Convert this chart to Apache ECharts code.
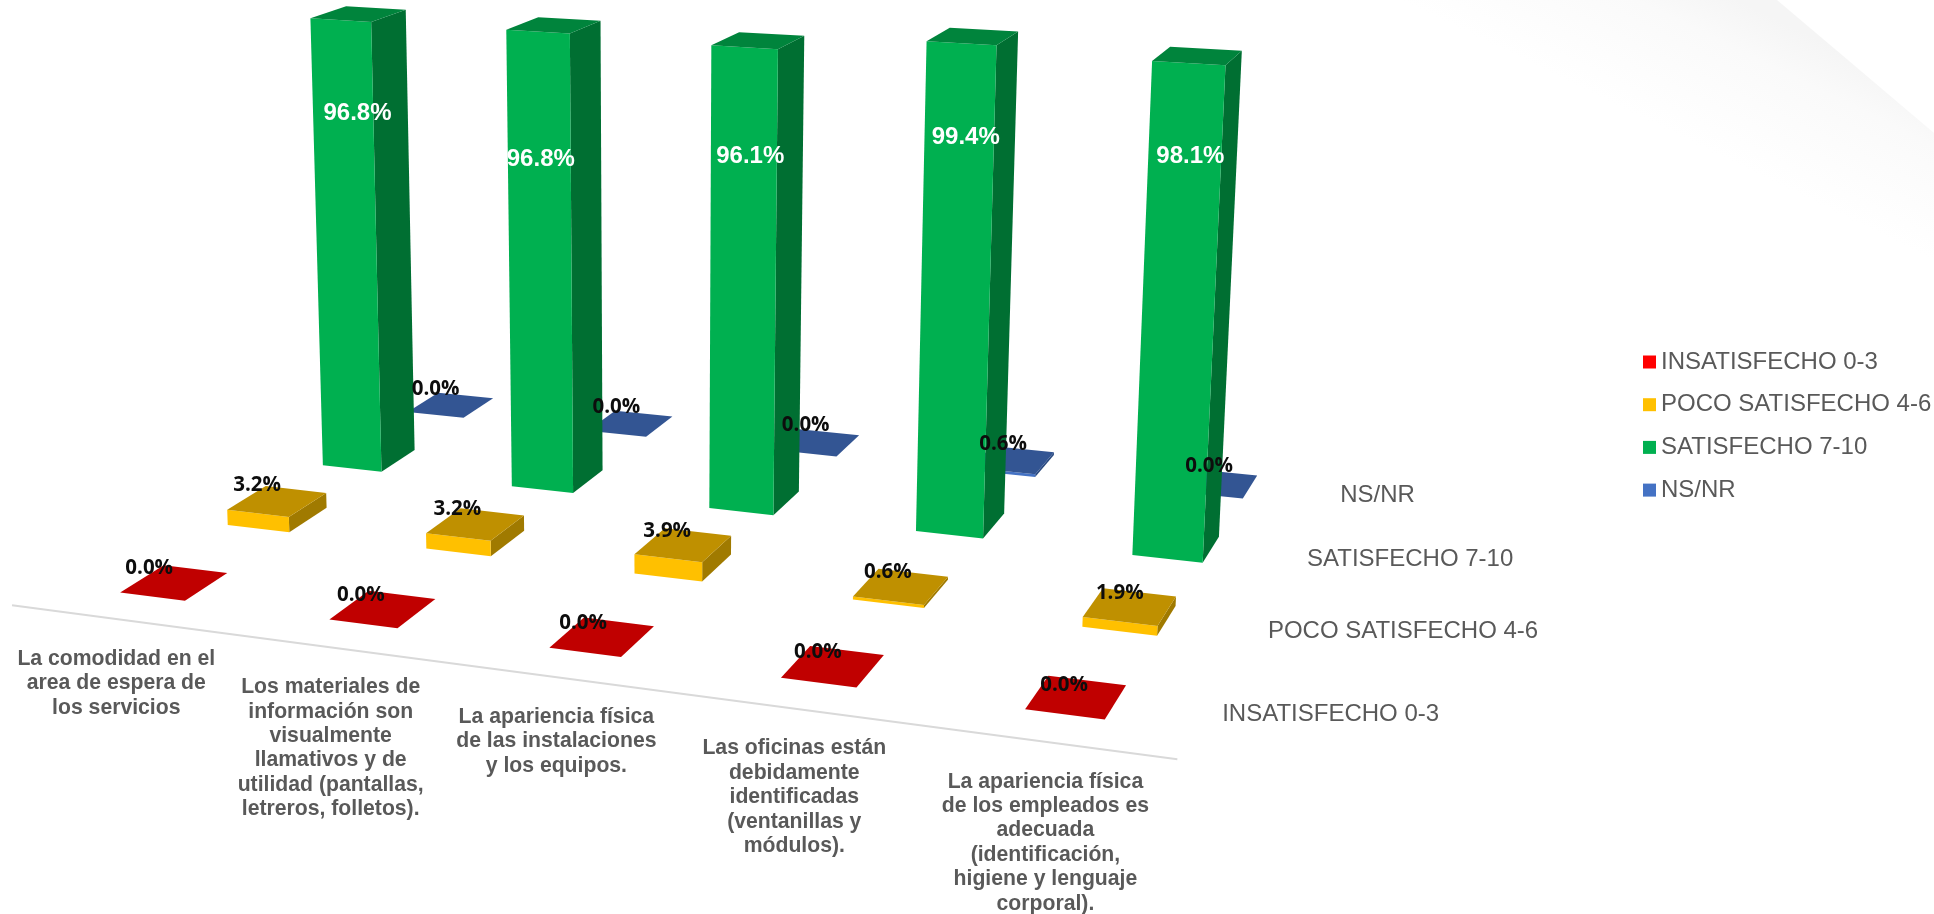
<!DOCTYPE html>
<html>
<head>
<meta charset="utf-8">
<style>html,body{margin:0;background:#fff}#chart{width:1934px;height:914px}</style>
</head>
<body>
<div id="chart"></div>
<script src="https://cdn.jsdelivr.net/npm/echarts@6/dist/echarts.min.js"></script>
<script>
// Survey results per service attribute, drawn as a 3D column chart.
const categories = [
  'La comodidad en el\narea de espera de\nlos servicios',
  'Los materiales de\ninformación son\nvisualmente\nllamativos y de\nutilidad (pantallas,\nletreros, folletos).',
  'La apariencia física\nde las instalaciones\ny los equipos.',
  'Las oficinas están\ndebidamente\nidentificadas\n(ventanillas y\nmódulos).',
  'La apariencia física\nde los empleados es\nadecuada\n(identificación,\nhigiene y lenguaje\ncorporal).'
];
const seriesNames = ['INSATISFECHO 0-3', 'POCO SATISFECHO 4-6', 'SATISFECHO 7-10', 'NS/NR'];
const insatisfecho = [0, 0, 0, 0, 0];
const pocoSatisfecho = [3.2, 3.2, 3.9, 0.6, 1.9];
const satisfecho = [96.8, 96.8, 96.1, 99.4, 98.1];
const nsNr = [0, 0, 0, 0.6, 0];
const seriesValues = [insatisfecho, pocoSatisfecho, satisfecho, nsNr];

// Face colours per series: front, top, right side.
const palette = [
  { front: '#ff0000', top: '#c00000', side: '#a00000' },
  { front: '#ffc000', top: '#bf9000', side: '#a07a00' },
  { front: '#00b050', top: '#00843c', side: '#006f32' },
  { front: '#4472c4', top: '#335593', side: '#2a4a80' }
];

// Projective camera: [X, Y/100, Z, 1] in model space to screen pixels.
const camera = [
  [199.382, -27.332, 121.393, 174.188],
  [11.705, -518.197, -32.938, 582.701],
  [-0.024244, -0.041604, 0.064853, 1]
];
const barWidth = 0.315;
const barDepth = 0.39;

// Hidden flat plot: its scales turn category index and value into pixels.
const plot = { left: 0, top: 0, width: 1000, height: 500 };

function project(X, Yn, Z) {
  const v = [X, Yn, Z, 1];
  const dot = (r) => r[0] * v[0] + r[1] * v[1] + r[2] * v[2] + r[3];
  const w = dot(camera[2]);
  return [dot(camera[0]) / w, dot(camera[1]) / w];
}

// Screen point for a position on the category and value axes at a given depth.
function toScreen(api, cat, value, depth) {
  const p = api.coord([cat, value]);
  const X = (p[0] - plot.left) / plot.width * 5 - 0.5;
  const Yn = (plot.top + plot.height - p[1]) / plot.height;
  return project(X, Yn, depth);
}

function polygon(points, fill) {
  return { type: 'polygon', shape: { points }, style: { fill }, silent: true };
}

function renderBar(depth) {
  return function (params, api) {
    const cat = api.value(0);
    const value = api.value(1);
    const colors = palette[depth];
    const dx = barWidth / 2;
    const dz = barDepth / 2;
    const c = (sx, v, sz) => toScreen(api, cat + sx * dx, v, depth + sz * dz);
    const children = [];
    if (value > 0) {
      children.push(polygon([c(1, 0, -1), c(1, 0, 1), c(1, value, 1), c(1, value, -1)], colors.side));
      children.push(polygon([c(-1, 0, -1), c(1, 0, -1), c(1, value, -1), c(-1, value, -1)], colors.front));
    }
    children.push(polygon([c(-1, value, -1), c(1, value, -1), c(1, value, 1), c(-1, value, 1)], colors.top));
    return { type: 'group', children };
  };
}

// Nudges that keep each value label readable next to its column.
const labelShift = [
  [[-25, -15], [-22, -14], [-19, -14], [-15, -14], [-12, -12]],
  [[-20, -16], [-18, -15], [-16, -14], [-13, -14], [-10, -14]],
  [[-1, 99], [-13, 134], [-8, 116], [-7, 101], [-7, 101]],
  [[-15, -16], [-14, -16], [-12, -17], [-10, -16], [-8, -17]]
];

function renderValueLabel(params, api) {
  const cat = api.value(0);
  const value = api.value(1);
  const depth = api.value(2);
  const p = toScreen(api, cat, value, depth);
  const shift = labelShift[depth][cat];
  const isLight = depth === 2;
  return {
    type: 'text',
    silent: true,
    style: {
      x: p[0] + shift[0],
      y: p[1] + shift[1],
      text: value.toFixed(1) + '%',
      align: 'center',
      verticalAlign: 'middle',
      fill: isLight ? '#ffffff' : '#0d0d0d',
      font: isLight ? 'bold 24px "Liberation Sans"' : 'bold 20.5px "Open Sans"'
    }
  };
}

// Category captions hang below the front floor edge.
function renderCategoryLabel(params, api) {
  const cat = api.value(0);
  const p = toScreen(api, cat, 0, -0.5);
  return {
    type: 'text',
    silent: true,
    style: {
      x: p[0] - 1,
      y: p[1] + 27.5,
      text: categories[cat],
      align: 'center',
      verticalAlign: 'top',
      lineHeight: 24.4,
      fill: '#595959',
      font: 'bold 21.2px "Liberation Sans"'
    }
  };
}

// Depth axis captions sit to the right of the floor.
const depthLabelGap = [128, 155, 122.5, 55];

function renderDepthLabel(params, api) {
  const depth = api.value(2);
  const p = toScreen(api, 4.5, 0, depth);
  return {
    type: 'text',
    silent: true,
    style: {
      x: p[0] + depthLabelGap[depth],
      y: p[1] + 1,
      text: seriesNames[depth],
      align: 'center',
      verticalAlign: 'middle',
      fill: '#595959',
      font: '24px "Liberation Sans"'
    }
  };
}

function renderBaseLine(params, api) {
  const a = toScreen(api, -0.51, 0, -0.5);
  const b = toScreen(api, 4.5, 0, -0.5);
  return {
    type: 'line',
    silent: true,
    shape: { x1: a[0], y1: a[1], x2: b[0], y2: b[1] },
    style: { stroke: '#d9d9d9', lineWidth: 2 }
  };
}

const catRows = categories.map((_, i) => [i, 0, 0]);
const depthRows = seriesNames.map((_, i) => [0, 0, i]);
const labelRows = [];
seriesValues.forEach((vals, depth) => vals.forEach((v, cat) => labelRows.push([cat, v, depth])));

const helper = (id, z, data, renderItem) => ({
  id, type: 'custom', z, silent: true, data, renderItem,
  encode: { x: 0, y: 1 }, clip: false, tooltip: { show: false }
});

// Back-to-front order, so nearer columns cover the ones behind them.
const barSeries = [3, 2, 1, 0].map((depth, order) => ({
  name: seriesNames[depth],
  type: 'custom',
  z: 3 + order,
  silent: true,
  itemStyle: { color: palette[depth].front },
  data: seriesValues[depth].map((v, cat) => [cat, v]),
  renderItem: renderBar(depth),
  encode: { x: 0, y: 1 },
  clip: false
}));

const chart = echarts.init(document.getElementById('chart'), null, { renderer: 'canvas' });
chart.setOption({
  animation: false,
  backgroundColor: '#ffffff',
  grid: { left: plot.left, top: plot.top, width: plot.width, height: plot.height },
  xAxis: { type: 'value', min: -0.5, max: 4.5, show: false },
  yAxis: { type: 'value', min: 0, max: 100, show: false },
  legend: {
    data: seriesNames,
    orient: 'vertical',
    left: 1643,
    top: 350,
    icon: 'rect',
    itemWidth: 13,
    itemHeight: 13,
    itemGap: 18.7,
    textStyle: { color: '#595959', fontSize: 24, fontFamily: 'Liberation Sans', padding: [0, 0, 0, 0] },
    selectedMode: false,
    padding: 0
  },
  graphic: [{
    type: 'polygon',
    silent: true,
    z: 0,
    shape: { points: [[1380, 0], [1777, 0], [1855, 66], [1934, 133], [1934, 270]] },
    style: {
      fill: {
        type: 'linear', global: true, x: 1860, y: 60, x2: 1795, y2: 193,
        colorStops: [
          { offset: 0, color: '#f5f5f5' },
          { offset: 0.3, color: '#fafafa' },
          { offset: 1, color: '#ffffff' }
        ]
      }
    }
  }],
  series: [
    helper('base-line', 2, [[0, 0, 0]], renderBaseLine),
    ...barSeries,
    helper('value-labels', 10, labelRows, renderValueLabel),
    helper('category-labels', 10, catRows, renderCategoryLabel),
    helper('depth-labels', 10, depthRows, renderDepthLabel)
  ]
});
</script>
</body>
</html>
